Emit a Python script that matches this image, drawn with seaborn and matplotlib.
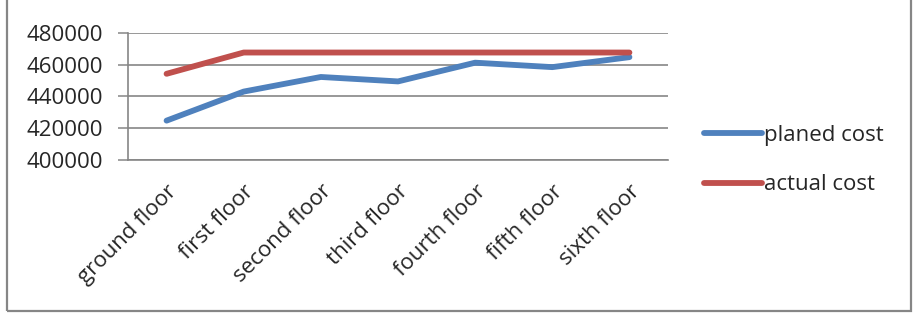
import matplotlib
matplotlib.use("Agg")
import matplotlib.pyplot as plt
import seaborn as sns
import pandas as pd
import numpy as np
from matplotlib.lines import Line2D
from matplotlib.patches import Rectangle

floors = ["ground floor", "first floor", "second floor", "third floor",
          "fourth floor", "fifth floor", "sixth floor"]
planed_cost = [424800, 443100, 452300, 449500, 461300, 458500, 464800]
actual_cost = [454300, 467700, 467700, 467700, 467700, 467700, 467700]
series_names = ["planed cost", "actual cost"]
colors = ["#4F81BD", "#C0504D"]
y_ticks = [400000, 420000, 440000, 460000, 480000]

sns.set_style("white")
plt.rcParams['font.family'] = ['Open Sans', 'DejaVu Sans']

df = pd.DataFrame({
    "floor": floors * 2,
    "cost": planed_cost + actual_cost,
    "series": [series_names[0]] * len(floors) + [series_names[1]] * len(floors),
})

fig = plt.figure(figsize=(9.22, 3.18), dpi=100)
W, H = 922, 318
ax = fig.add_axes([128 / W, 1 - 160 / H, (668 - 128) / W, (160 - 33) / H])

LW = 4.2
sns.lineplot(data=df, x="floor", y="cost", hue="series", palette=colors,
             linewidth=LW, ax=ax, legend=False, sort=False)
for ln in ax.lines:
    ln.set_solid_capstyle("round")
    ln.set_solid_joinstyle("round")

FS = 16
grid_col = "#868686"
ax.set_xlim(-0.5, len(floors) - 0.5)
ax.set_ylim(y_ticks[0], y_ticks[-1])
ax.set_yticks(y_ticks)
ax.set_yticklabels([str(v) for v in y_ticks], fontsize=FS)
ax.set_xticks(range(len(floors)))
ax.set_xticklabels(floors, fontsize=FS, rotation=45, ha="right", va="top",
                   rotation_mode="anchor")
ax.set_xticks(np.arange(-0.5, len(floors), 1.0), minor=True)
ax.tick_params(axis="x", which="major", length=0, pad=15)
ax.tick_params(axis="x", which="minor", length=6, width=1.1, color=grid_col, direction="out")
ax.tick_params(axis="y", length=7, width=1.1, color=grid_col, pad=11, left=True)
ax.yaxis.grid(True, color=grid_col, linewidth=1.2)
ax.set_axisbelow(True)
ax.set_xlabel("")
ax.set_ylabel("")
for s in ["top", "right"]:
    ax.spines[s].set_visible(False)
for s in ["left", "bottom"]:
    ax.spines[s].set_color(grid_col)
    ax.spines[s].set_linewidth(1.2)

handles = [Line2D([0], [0], color=c, linewidth=LW, solid_capstyle="round") for c in colors]
fig.legend(handles, series_names, loc="center left",
           bbox_to_anchor=(684 / W, 1 - 160 / H), frameon=False, fontsize=FS,
           handlelength=2.6, handletextpad=0.1, labelspacing=1.3)

fig.add_artist(Rectangle((7 / W, 1 - 310.5 / H), (911 - 7) / W, 1.0,
                         transform=fig.transFigure, fill=False,
                         edgecolor=grid_col, linewidth=1.6, clip_on=False))

fig.savefig("out.png", dpi=100)
